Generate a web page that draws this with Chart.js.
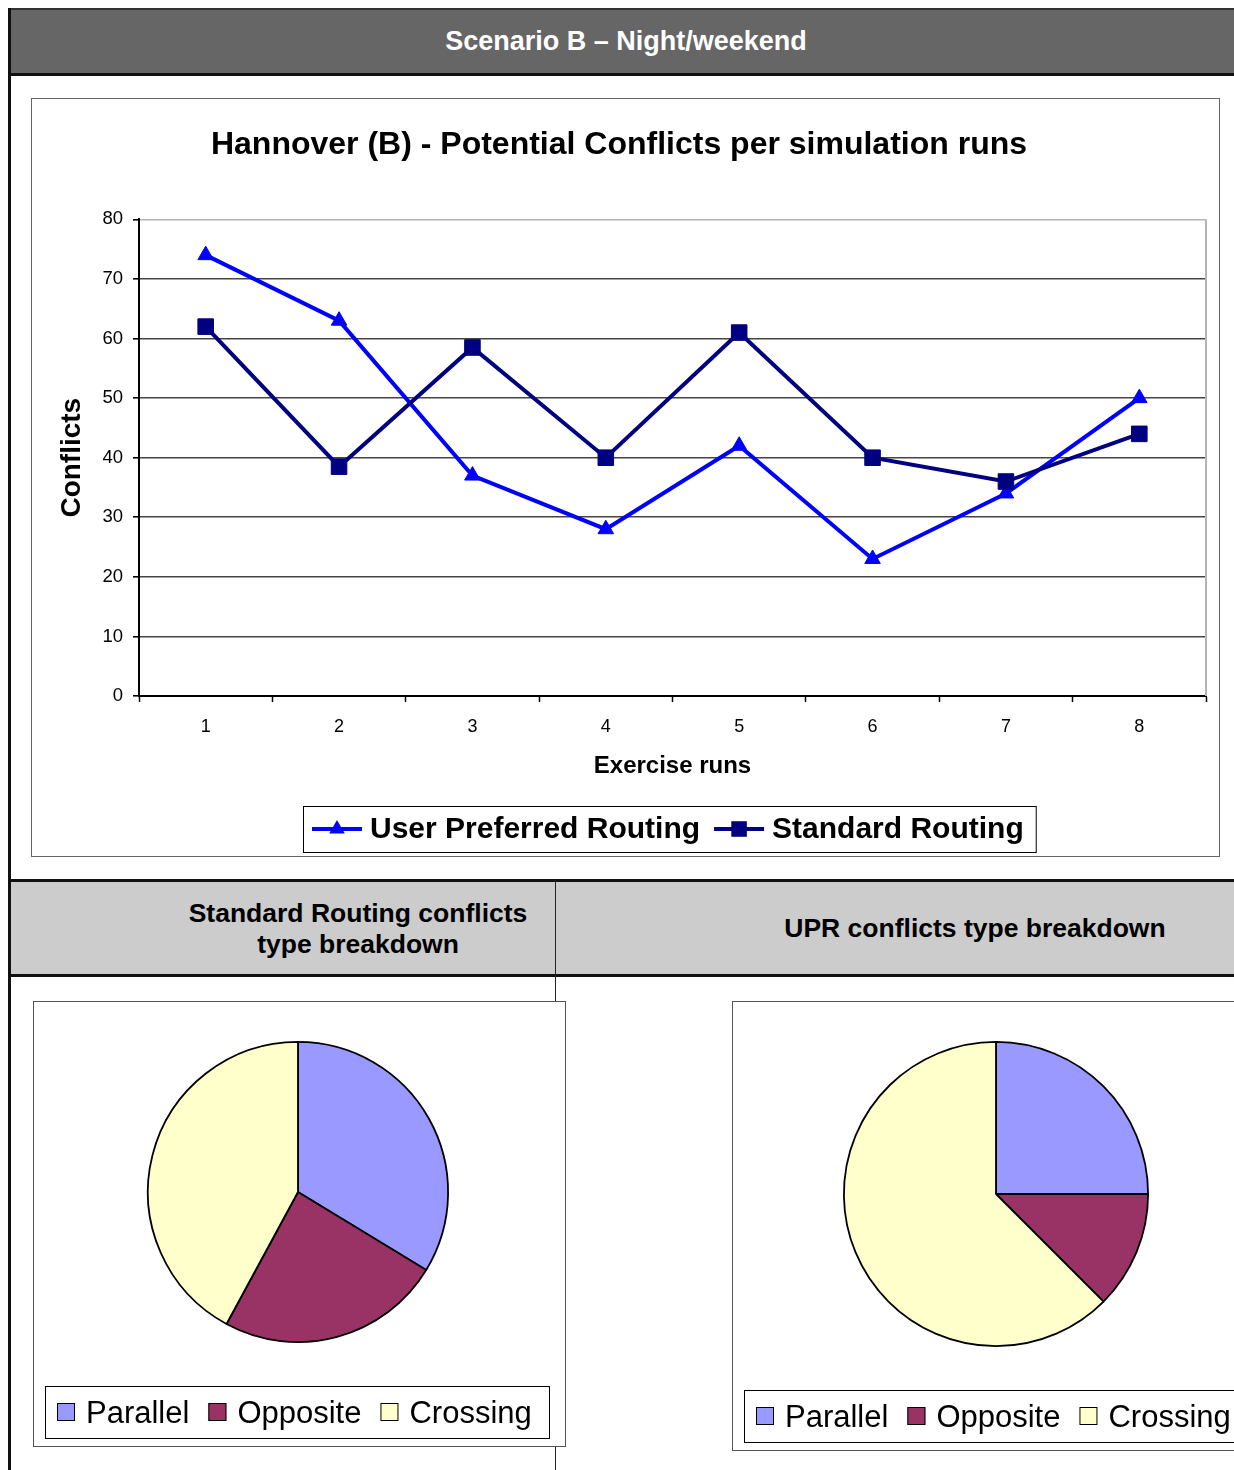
<!DOCTYPE html>
<html>
<head>
<meta charset="utf-8">
<title>Scenario B – Night/weekend</title>
<script src="https://cdn.jsdelivr.net/npm/chart.js@4/dist/chart.umd.min.js"></script>
<style>
  html, body { margin: 0; padding: 0; background: #fff; }
  body { width: 1234px; height: 1470px; overflow: hidden; position: relative;
         font-family: "Liberation Sans", Arial, Helvetica, sans-serif; }
  .abs { position: absolute; }
  .rule { position: absolute; background: #111; }
  .topbar { left: 10px; top: 8px; width: 1232px; height: 66px; background: #666;
            border-top: 2px solid #333; box-sizing: border-box;
            color: #fff; font-weight: bold; font-size: 27px; line-height: 62px; text-align: center; }
  .headrow { left: 11px; top: 882px; width: 1232px; height: 93px; background: #ccc; }
  .headtext { position: absolute; font-weight: bold; font-size: 26.5px; line-height: 31px;
              text-align: center; color: #000; width: 420px; }
  .box { position: absolute; border: 1px solid #666; box-sizing: border-box; background: #fff; }
  canvas { position: absolute; display: block; }
</style>
</head>
<body>

<!-- section frame -->
<div class="abs topbar">Scenario B – Night/weekend</div>
<div class="rule" style="left:8px; top:8px; width:3px; height:1462px;"></div>
<div class="rule" style="left:8px; top:73px; width:1240px; height:3px;"></div>

<div class="box" style="left:31px; top:98px; width:1189px; height:759px;"></div>
<canvas id="runsChart" width="1187" height="757" style="left:32px; top:99px;"></canvas>

<div class="rule" style="left:8px; top:879px; width:1240px; height:3px;"></div>
<div class="abs headrow"></div>
<div class="rule" style="left:8px; top:974px; width:1240px; height:3px;"></div>
<div class="rule" style="left:555px; top:882px; width:1px; height:588px; background:#222;"></div>

<div class="headtext" style="left:148px; top:898px;">Standard Routing conflicts<br>type breakdown</div>
<div class="headtext" style="left:765px; top:913px;">UPR conflicts type breakdown</div>

<div class="box" style="left:33px; top:1001px; width:533px; height:446px; border-color:#555;"></div>
<canvas id="standardPie" width="531" height="444" style="left:34px; top:1002px;"></canvas>

<div class="box" style="left:732px; top:1001px; width:522px; height:450px; border-color:#555;"></div>
<canvas id="uprPie" width="520" height="448" style="left:733px; top:1002px;"></canvas>

<script>
// ---- data ----
const runLabels = ['1', '2', '3', '4', '5', '6', '7', '8'];
const uprConflicts = [74, 63, 37, 28, 42, 23, 34, 50];
const standardConflicts = [62, 38.5, 58.5, 40, 61, 40, 36, 44];
const conflictAxisMin = 0;
const conflictAxisMax = 80;
const conflictAxisStep = 10;

const conflictTypes = ['Parallel', 'Opposite', 'Crossing'];
const standardTypeShare = [33.7, 24.2, 42.1];
const uprTypeShare = [25, 12.5, 62.5];

// ---- shared look ----
const FONT = '"Liberation Sans", Arial, Helvetica, sans-serif';
Chart.defaults.font.family = FONT;
Chart.defaults.color = '#000';

function drawMarker(ctx, style, x, y, r, color) {
  ctx.fillStyle = color;
  ctx.beginPath();
  if (style === 'triangle') {
    ctx.moveTo(x, y - r);
    ctx.lineTo(x + r * 0.866, y + r / 2);
    ctx.lineTo(x - r * 0.866, y + r / 2);
    ctx.closePath();
  } else {
    const s = r * Math.SQRT1_2;
    ctx.rect(x - s, y - s, 2 * s, 2 * s);
  }
  ctx.fill();
}

// light frame line on the right edge of the plot area
const plotFrame = {
  id: 'plotFrame',
  beforeDatasetsDraw(chart) {
    const { ctx, chartArea: a } = chart;
    ctx.save();
    ctx.strokeStyle = '#b4b4b4';
    ctx.lineWidth = 2;
    ctx.beginPath();
    ctx.moveTo(a.right, a.top);
    ctx.lineTo(a.right, a.bottom);
    ctx.stroke();
    ctx.restore();
  }
};

// boxed series key: line + marker, then the series name
const seriesKey = {
  id: 'seriesKey',
  afterDraw(chart, args, o) {
    const { ctx, chartArea: a } = chart;
    ctx.save();
    ctx.font = `bold ${o.fontSize}px ${FONT}`;
    const items = chart.data.datasets.map(ds => ({ ds, w: ctx.measureText(ds.label).width }));
    let total = o.padLeft + o.padRight;
    items.forEach((it, i) => { total += o.lineLen + o.gap + it.w + (i ? o.between : 0); });
    const left = Math.round((a.left + a.right) / 2 - total / 2) - 3;
    const cy = o.top + o.height / 2;
    ctx.fillStyle = '#fff';
    ctx.fillRect(left, o.top, total, o.height);
    ctx.strokeStyle = '#000';
    ctx.lineWidth = 1;
    ctx.strokeRect(left + 0.5, o.top + 0.5, total, o.height);
    let x = left + o.padLeft;
    items.forEach((it, i) => {
      if (i) x += o.between;
      const ds = it.ds;
      ctx.strokeStyle = ds.borderColor;
      ctx.lineWidth = ds.borderWidth;
      ctx.beginPath();
      ctx.moveTo(x, cy);
      ctx.lineTo(x + o.lineLen, cy);
      ctx.stroke();
      drawMarker(ctx, ds.pointStyle, x + o.lineLen / 2, cy, ds.pointRadius, ds.pointBackgroundColor);
      x += o.lineLen + o.gap;
      ctx.fillStyle = '#000';
      ctx.textAlign = 'left';
      ctx.textBaseline = 'middle';
      ctx.fillText(ds.label, x, cy + 1);
      x += it.w;
    });
    ctx.restore();
  }
};

// boxed key for the pie slices
const typeKey = {
  id: 'typeKey',
  afterDraw(chart, args, o) {
    const ctx = chart.ctx;
    const ds = chart.data.datasets[0];
    ctx.save();
    ctx.fillStyle = '#fff';
    ctx.fillRect(o.left, o.top, o.width, o.height);
    ctx.strokeStyle = '#000';
    ctx.lineWidth = 1;
    ctx.strokeRect(o.left + 0.5, o.top + 0.5, o.width, o.height);
    ctx.font = `${o.fontSize}px ${FONT}`;
    ctx.textAlign = 'left';
    ctx.textBaseline = 'middle';
    const cy = o.top + o.height / 2;
    let x = o.left + o.padLeft;
    chart.data.labels.forEach((label, i) => {
      ctx.fillStyle = ds.backgroundColor[i];
      ctx.fillRect(x, cy - o.swatch / 2, o.swatch, o.swatch);
      ctx.strokeStyle = '#000';
      ctx.strokeRect(x + 0.5, cy - o.swatch / 2 + 0.5, o.swatch - 1, o.swatch - 1);
      x += o.swatch + o.gap;
      ctx.fillStyle = '#000';
      ctx.fillText(label, x, cy + 2);
      x += ctx.measureText(label).width + o.between;
    });
    ctx.restore();
  }
};

// ---- line chart: conflicts per run ----
new Chart(document.getElementById('runsChart'), {
  type: 'line',
  data: {
    labels: runLabels,
    datasets: [
      {
        label: 'User Preferred Routing',
        data: uprConflicts,
        borderColor: '#0000FF',
        backgroundColor: '#0000FF',
        pointBackgroundColor: '#0000FF',
        pointBorderColor: '#0000FF',
        borderWidth: 4,
        pointStyle: 'triangle',
        pointRadius: 9,
        pointBorderWidth: 1,
        tension: 0,
        order: 1
      },
      {
        label: 'Standard Routing',
        data: standardConflicts,
        borderColor: '#000080',
        backgroundColor: '#000080',
        pointBackgroundColor: '#000080',
        pointBorderColor: '#000080',
        borderWidth: 4,
        pointStyle: 'rect',
        pointRadius: 11,
        pointBorderWidth: 1,
        tension: 0,
        order: 0
      }
    ]
  },
  options: {
    responsive: false,
    animation: false,
    layout: { padding: { left: 0, right: 13, top: 0, bottom: 70 } },
    scales: {
      x: {
        offset: true,
        grid: { offset: true, drawOnChartArea: false, tickLength: 6, tickColor: '#000', tickWidth: 1.5 },
        border: { color: '#000', width: 2 },
        ticks: { font: { size: 18 }, padding: 14, maxRotation: 0, color: '#000' },
        title: { display: true, text: 'Exercise runs', color: '#000',
                 font: { size: 24, weight: 'bold' }, padding: { top: 0, bottom: 5 } },
        afterFit(s) { s.height = 90; }
      },
      y: {
        min: conflictAxisMin,
        max: conflictAxisMax,
        ticks: { stepSize: conflictAxisStep, font: { size: 18.5 }, padding: 10, color: '#000' },
        grid: {
          color: c => (c.tick && c.tick.value === conflictAxisMax ? '#b4b4b4' : '#454545'),
          lineWidth: 1.6,
          tickLength: 6,
          tickColor: '#000'
        },
        border: { color: '#000', width: 2 },
        title: { display: true, text: 'Conflicts', color: '#000',
                 font: { size: 28, weight: 'bold' }, padding: { top: 23, bottom: 0 } },
        afterFit(s) { s.width = 107; }
      }
    },
    plugins: {
      legend: { display: false },
      tooltip: { enabled: false },
      title: {
        display: true,
        text: 'Hannover (B) - Potential Conflicts per simulation runs',
        color: '#000',
        font: { size: 32, weight: 'bold' },
        padding: { top: 27, bottom: 55 }
      },
      seriesKey: { top: 707, height: 46, fontSize: 30, padLeft: 9, padRight: 12,
                   lineLen: 50, gap: 8, between: 14 }
    }
  },
  plugins: [plotFrame, seriesKey]
});

// ---- pie charts: conflict type breakdown ----
function typePie(id, shares, padding, keyTop) {
  return new Chart(document.getElementById(id), {
    type: 'pie',
    data: {
      labels: conflictTypes,
      datasets: [{
        data: shares,
        backgroundColor: ['#9999FF', '#993366', '#FFFFCC'],
        borderColor: '#000',
        borderWidth: 1.8
      }]
    },
    options: {
      responsive: false,
      animation: false,
      layout: { padding },
      plugins: {
        legend: { display: false },
        tooltip: { enabled: false },
        typeKey: { left: 11, top: keyTop, width: 504, height: 52, fontSize: 31,
                   padLeft: 12, swatch: 18, gap: 11, between: 19 }
      }
    },
    plugins: [typeKey]
  });
}

typePie('standardPie', standardTypeShare, { left: 113, right: 116, top: 39, bottom: 103 }, 384);
typePie('uprPie', uprTypeShare, { left: 110, right: 104, top: 39, bottom: 103 }, 388);
</script>
</body>
</html>
